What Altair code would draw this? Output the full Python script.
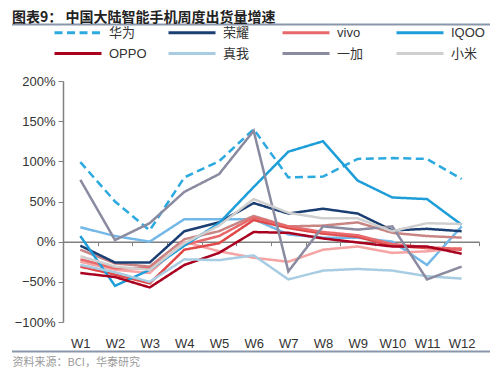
import altair as alt
import pandas as pd

weeks = ["W1", "W2", "W3", "W4", "W5", "W6", "W7", "W8", "W9", "W10", "W11", "W12"]

legend_names = ["华为", "荣耀", "vivo", "IQOO", "OPPO", "真我", "一加", "小米"]
extra_names = ["其他1", "其他2", "其他3", "其他4"]

huawei = [99, 50, 14, 80, 100, 140, 80, 81, 103, 104, 103, 78]
honor = [-5, -26, -26, 13, 24, 48, 35, 41, 35, 14, 16, 13]
vivo = [-22, -33, -33, -4, 7, 30, 19, 12, 8, -3, -7, -9]
iqoo = [7, -55, -35, -5, 23, 68, 112, 125, 76, 55, 53, 21]
oppo = [-39, -44, -57, -29, -14, 12, 11, 4, -1, -6, -6, -15]
realme = [-29, -38, -50, -22, -23, -17, -47, -36, -34, -36, -43, -46]
oneplus = [77, 2, 23, 62, 84, 138, -37, 19, 15, 19, -47, -31]
xiaomi = [-18, -31, -35, -2, 20, 53, 36, 29, 29, 13, 23, 22]
extra_blue = [18, 7, 0, 28, 28, 28, 9, 5, 5, 0, -29, 19]
extra_rose = [-10, -27, -31, 3, 13, 32, 19, 20, 24, 11, 7, 5]
extra_pink = [-25, -35, -39, 0, -12, -20, -25, -10, -6, -14, -12, -8]
extra_red = [-31, -41, -52, -10, -2, 27, 17, 10, 6, -5, -8, -10]

series_names = extra_names + legend_names
series_values = [extra_blue, extra_rose, extra_pink, extra_red,
                 huawei, honor, vivo, iqoo, oppo, realme, oneplus, xiaomi]
colors = ["#74B8E8", "#C98484", "#F5A3A3", "#E04848",
          "#2CA9DF", "#1C3F73", "#E8696B", "#1E9ED9", "#A8001E", "#A8CCE2", "#8A8AA0", "#CFCFCF"]
dashes = [[1, 0]] * 4 + [[8, 4.5]] + [[1, 0]] * 7

# legend fills column by column (2 rows x 4 columns)
legend_order = ["华为", "OPPO", "荣耀", "真我", "vivo", "一加", "IQOO", "小米"]

rows = []
for name, vals in zip(series_names, series_values):
    for w, v in zip(weeks, vals):
        rows.append({"week": w, "brand": name, "value": v / 100.0})
df = pd.DataFrame(rows)

title_text = "图表9： 中国大陆智能手机周度出货量增速"
footer_text = "资料来源：BCI，华泰研究"

legend = alt.Legend(
    title=None, orient="none", legendX=-10, legendY=-55, columns=4,
    values=legend_order, symbolType="stroke", symbolSize=2209,
    symbolStrokeWidth=3, clipHeight=13,
    labelFont="Liberation Sans, Noto Sans CJK SC", labelFontSize=13,
    labelColor="#333333", labelOffset=6, columnPadding=20, rowPadding=7,
    gridAlign="all", padding=0,
)

lines = alt.Chart(df).mark_line(strokeWidth=2.5).encode(
    x=alt.X("week:N", sort=weeks, bandPosition=0.5,
            scale=alt.Scale(type="band", paddingInner=0, paddingOuter=0),
            axis=alt.Axis(
                title=footer_text, orient="bottom", offset=-80.3,
                domainColor="#808080", domainWidth=1.5,
                tickColor="#808080", tickBand="extent", tickSize=4, tickWidth=1,
                labelAngle=0, labelPadding=92, labelFont="Liberation Sans",
                labelFontSize=13, labelColor="#333333",
                titleX=-51, titleY=121, titleAlign="left", titleBaseline="middle",
                titleFont="Noto Sans CJK SC", titleFontSize=11,
                titleFontWeight="normal", titleColor="#9A9A9A",
            )),
    y=alt.Y("value:Q",
            scale=alt.Scale(domain=[-1, 2], nice=False, zero=False),
            axis=alt.Axis(
                title=None, values=[-1, -0.5, 0, 0.5, 1, 1.5, 2], format=".0%",
                grid=False, domainColor="#808080", domainWidth=1.5,
                tickColor="#808080", tickSize=5, labelPadding=3,
                labelFont="Liberation Sans", labelFontSize=13, labelColor="#333333",
            )),
    color=alt.Color("brand:N", scale=alt.Scale(domain=series_names, range=colors), legend=legend),
    strokeDash=alt.StrokeDash("brand:N", scale=alt.Scale(domain=series_names, range=dashes), legend=legend),
    order=alt.Order("week_idx:Q"),
).transform_calculate(
    week_idx="indexof(" + str(weeks).replace("'", '"') + ", datum.week)"
)

# decorative separator lines under the title and above the source note
deco = pd.DataFrame({"k": [0]})
top_rule = alt.Chart(deco).mark_rule(color="#8A97AA", strokeWidth=1.8).encode(
    x=alt.value(-51), x2=alt.value(427), y=alt.value(-56.5))
bottom_rule = alt.Chart(deco).mark_rule(color="#8A97AA", strokeWidth=1.8).encode(
    x=alt.value(-51), x2=alt.value(427), y=alt.value(270.5))

chart = alt.layer(lines, top_rule, bottom_rule).properties(
    width=416, height=241,
    title=alt.TitleParams(title_text, anchor="start", frame="group", dx=-51, dy=5,
                          font="Noto Sans CJK SC", fontSize=14, fontWeight="bold",
                          color="#222222"),
    autosize=alt.AutoSizeParams(type="none"),
    padding={"left": 55, "top": 73, "right": 13, "bottom": 55},
).configure_view(stroke=None)

chart.save("out.html", embed_options={"renderer": "svg", "actions": False})
